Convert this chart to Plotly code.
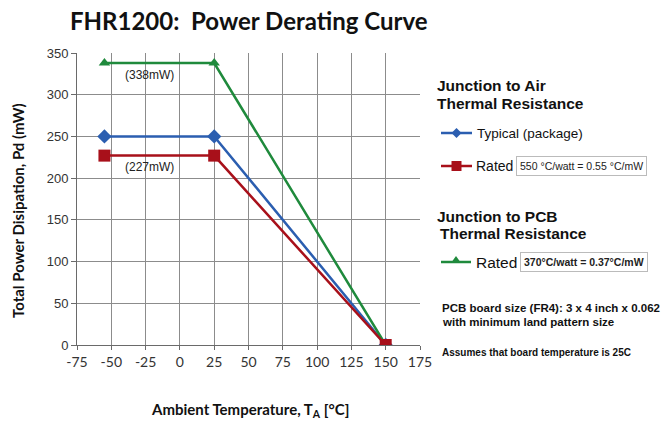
import plotly.graph_objects as go

# ---- data ----
temps = [-55, 25, 150]
typical_pkg = [250, 250, 0]
rated_air = [227, 227, 0]
rated_pcb = [338, 338, 0]
x_ticks = [-75, -50, -25, 0, 25, 50, 75, 100, 125, 150, 175]
y_ticks = [0, 50, 100, 150, 200, 250, 300, 350]

BLUE = "#2b5eb0"
RED = "#a8101a"
GREEN = "#1f8a3c"

W, H = 662, 423
L, R, T, B = 77, 242, 53, 78
PW, PH = W - L - R, H - T - B


def px(x):
    return (x - L) / PW


def py(y):
    return (H - B - y) / PH


fig = go.Figure()
fig.add_trace(go.Scatter(x=temps, y=typical_pkg, mode="lines+markers", name="Typical (package)",
                         line=dict(color=BLUE, width=2.5),
                         marker=dict(symbol="diamond", size=11, color=BLUE), showlegend=False))
fig.add_trace(go.Scatter(x=temps, y=rated_pcb, mode="lines+markers", name="Rated (PCB)",
                         line=dict(color=GREEN, width=2.5),
                         marker=dict(symbol="triangle-up", size=10, color=GREEN,
                                     opacity=[1, 1, 0]), showlegend=False))
fig.add_trace(go.Scatter(x=temps, y=rated_air, mode="lines+markers", name="Rated (Air)",
                         line=dict(color=RED, width=2.5),
                         marker=dict(symbol="square", size=12, color=RED), showlegend=False))

fig.add_annotation(x=-22, y=324, text="(338mW)", showarrow=False,
                   font=dict(family="Liberation Sans", size=12, color="#222"))
fig.add_annotation(x=-22, y=213, text="(227mW)", showarrow=False,
                   font=dict(family="Liberation Sans", size=12, color="#222"))

NARROW = "Liberation Sans Narrow, Liberation Sans"


def text(x, y, s, size, bold=False, fam="Liberation Sans", color="#111", **kw):
    fig.add_annotation(xref="paper", yref="paper", x=px(x), y=py(y), text=(f"<b>{s}</b>" if bold else s),
                       showarrow=False, xanchor="left", yanchor="middle",
                       font=dict(family=fam, size=size, color=color), **kw)


# Legend-like panel
text(435, 85, "Junction to Air", 15.5, bold=True)
text(435, 103, "Thermal Resistance", 15.5, bold=True)
text(435, 216, "Junction to PCB", 15.5, bold=True)
text(438, 234, "Thermal Resistance", 15.5, bold=True)


def legend_line(y, x0, x1, color, sym):
    fig.add_shape(type="line", xref="paper", yref="paper", x0=px(x0), x1=px(x1), y0=py(y), y1=py(y),
                  line=dict(color=color, width=2.5))
    cx = (x0 + x1) / 2
    d = 5
    if sym == "diamond":
        path = f"M {px(cx-d)},{py(y)} L {px(cx)},{py(y-d)} L {px(cx+d)},{py(y)} L {px(cx)},{py(y+d)} Z"
    elif sym == "square":
        path = f"M {px(cx-d)},{py(y-d)} L {px(cx+d)},{py(y-d)} L {px(cx+d)},{py(y+d)} L {px(cx-d)},{py(y+d)} Z"
    else:
        path = f"M {px(cx-d)},{py(y+1)} L {px(cx)},{py(y-6)} L {px(cx+d)},{py(y+1)} Z"
    fig.add_shape(type="path", xref="paper", yref="paper", path=path,
                  fillcolor=color, line=dict(color=color, width=0))


legend_line(133, 441, 472, BLUE, "diamond")
text(475, 133, "Typical (package)", 13.5, fam=NARROW)
legend_line(166, 441, 472, RED, "square")
text(474, 166, "Rated", 14, fam=NARROW)
text(516, 166, "550 °C/watt = 0.55 °C/mW", 10.5, fam=NARROW,
     bordercolor="#bbbbbb", borderwidth=1, borderpad=3, bgcolor="white", color="#222")
legend_line(262, 441, 471, GREEN, "triangle")
text(474, 262, "Rated", 15.5, fam=NARROW)
text(520, 262, "<b>370°C/watt = 0.37°C/mW</b>", 10.5, fam=NARROW,
     bordercolor="#bbbbbb", borderwidth=1, borderpad=3, bgcolor="white", color="#222")
text(440, 308, "PCB board size (FR4): 3 x 4 inch x 0.062", 11.5, bold=True, fam=NARROW)
text(440, 322, "with minimum land pattern size", 11.5, bold=True, fam=NARROW)
text(440, 352, "Assumes that board temperature is 25C", 10, bold=True, fam=NARROW)

# Title and axis titles
fig.add_annotation(xref="paper", yref="paper", x=px(68), y=py(20), text="<b>FHR1200:  Power Derating Curve</b>",
                   showarrow=False, xanchor="left", yanchor="middle",
                   font=dict(family="Lato", size=24, color="#111"))
fig.add_annotation(xref="paper", yref="paper", x=px(250), y=py(410),
                   text="<b>Ambient Temperature, T<sub>A</sub> [°C]</b>",
                   showarrow=False, xanchor="center", yanchor="middle",
                   font=dict(family="Lato", size=15, color="#111"))
fig.add_annotation(xref="paper", yref="paper", x=px(18), y=py(211),
                   text="<b>Total Power Disipation, Pd (mW)</b>", textangle=-90,
                   showarrow=False, xanchor="center", yanchor="middle",
                   font=dict(family="Lato", size=15, color="#111"))

fig.update_layout(
    width=W, height=H,
    margin=dict(l=L, r=R, t=T, b=B),
    paper_bgcolor="white", plot_bgcolor="white",
    showlegend=False,
    xaxis=dict(range=[-75, 175], tickvals=x_ticks, ticktext=[str(v) for v in x_ticks],
               showgrid=True, gridcolor="#8c8c8c", gridwidth=1,
               showline=True, linecolor="#6a6a6a", linewidth=1,
               ticks="outside", ticklen=4, tickcolor="#6a6a6a",
               tickfont=dict(family="Lato", size=14, color="#333"), zeroline=False),
    yaxis=dict(range=[0, 350], tickvals=y_ticks,
               showgrid=True, gridcolor="#8c8c8c", gridwidth=1,
               showline=True, linecolor="#6a6a6a", linewidth=1,
               ticks="outside", ticklen=5, tickcolor="#6a6a6a",
               tickfont=dict(family="Liberation Sans", size=13, color="#333"), zeroline=False),
)

fig.write_html("out.html", config={"displayModeBar": False},
               post_script="document.body.style.margin='0';document.body.style.overflow='hidden';")
